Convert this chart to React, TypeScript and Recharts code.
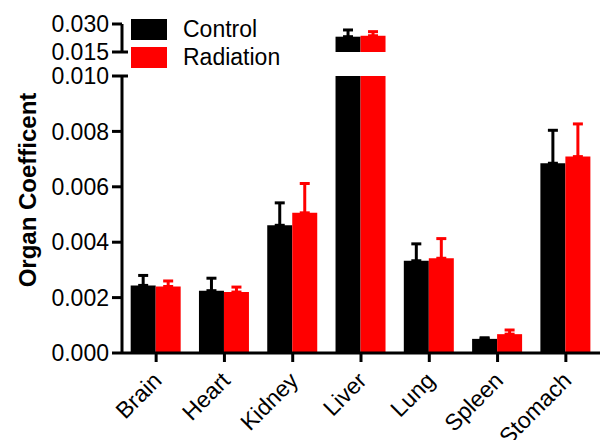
import { BarChart, Bar, XAxis, YAxis, ErrorBar, Legend, Label } from "recharts";

const categories = ["Brain", "Heart", "Kidney", "Liver", "Lung", "Spleen", "Stomach"];
const control = [0.00244, 0.00225, 0.00461, 0.0232, 0.00333, 0.00051, 0.00685];
const controlErr = [0.00036, 0.00045, 0.00081, 0.0036, 0.00061, 0.00004, 0.00119];
const radiation = [0.0024, 0.0022, 0.00506, 0.0237, 0.00342, 0.00068, 0.00709];
const radiationErr = [0.0002, 0.00018, 0.00106, 0.0022, 0.00071, 0.00015, 0.00118];

const lowerTicks = [0, 0.002, 0.004, 0.006, 0.008, 0.01];
const upperTicks = [0.015, 0.03];
const BREAK_LOW = 0.01;
const BREAK_HIGH = 0.015;

const FONT = "'Liberation Sans', Arial, sans-serif";
const TICK_SIZE = 10;
const TICK_MARGIN = 3;

const lowerData = categories.map((name, i) => ({
  name,
  control: control[i],
  controlErr: [0, controlErr[i]],
  radiation: radiation[i],
  radiationErr: [0, radiationErr[i]],
}));

// only the values that reach above the axis break go into the top panel
const upperData = categories.map((name, i) => ({
  name,
  control: control[i] > BREAK_HIGH ? control[i] : null,
  controlErr: control[i] > BREAK_HIGH ? [0, controlErr[i]] : null,
  radiation: radiation[i] > BREAK_HIGH ? radiation[i] : null,
  radiationErr: radiation[i] > BREAK_HIGH ? [0, radiationErr[i]] : null,
}));

function YTick(props: any) {
  const { x, y, payload } = props;
  const axisX = x + TICK_SIZE + TICK_MARGIN;
  const isBreak = payload.value === BREAK_LOW || payload.value === BREAK_HIGH;
  return (
    <g>
      {isBreak && (
        <line x1={axisX} x2={axisX + 6} y1={y} y2={y} stroke="#000" strokeWidth={3} />
      )}
      <text x={x} y={y} dy="0.36em" textAnchor="end" fill="#000" fontSize={23} fontFamily={FONT}>
        {payload.value.toFixed(3)}
      </text>
    </g>
  );
}

function XTick(props: any) {
  const { x, y, payload } = props;
  const tx = x + 7;
  const ty = y + 18;
  return (
    <text
      x={tx}
      y={ty}
      transform={`rotate(-45, ${tx}, ${ty})`}
      textAnchor="end"
      fill="#000"
      fontSize={23}
      fontFamily={FONT}
    >
      {payload.value}
    </text>
  );
}

function LegendBox(props: any) {
  const { payload } = props;
  return (
    <div style={{ fontFamily: FONT, fontSize: 23, color: "#000" }}>
      {payload.map((p: any) => (
        <div key={p.value} style={{ display: "flex", alignItems: "center", height: 28.5 }}>
          <span style={{ display: "inline-block", width: 36, height: 21, background: p.color, marginRight: 16 }} />
          <span>{p.value}</span>
        </div>
      ))}
    </div>
  );
}

export default function App() {
  return (
    <div style={{ position: "absolute", left: 0, top: 0, width: 605, height: 440, background: "#fff" }}>
      <div style={{ position: "absolute", left: 0, top: 0 }}>
        <BarChart
          width={605}
          height={440}
          data={lowerData}
          margin={{ top: 76, right: 5, bottom: 0, left: 0 }}
          barCategoryGap="12.7%"
          barGap={0}
        >
          <XAxis
            dataKey="name"
            height={87}
            interval={0}
            axisLine={{ stroke: "#000", strokeWidth: 3 }}
            tickLine={{ stroke: "#000", strokeWidth: 3 }}
            tickSize={9}
            tick={<XTick />}
          />
          <YAxis
            width={122}
            domain={[0, BREAK_LOW]}
            ticks={lowerTicks}
            allowDataOverflow
            interval={0}
            axisLine={{ stroke: "#000", strokeWidth: 3 }}
            tickLine={{ stroke: "#000", strokeWidth: 3 }}
            tickSize={TICK_SIZE}
            tickMargin={TICK_MARGIN}
            tick={<YTick />}
          >
            <Label
              content={() => (
                <text
                  transform="translate(36,190) rotate(-90)"
                  textAnchor="middle"
                  fontSize={24}
                  fontWeight="bold"
                  fontFamily={FONT}
                  fill="#000"
                >
                  Organ Coefficent
                </text>
              )}
            />
          </YAxis>
          <Legend
            layout="vertical"
            align="center"
            verticalAlign="middle"
            content={<LegendBox />}
            wrapperStyle={{ left: 131, top: 15, width: "auto" }}
          />
          <Bar dataKey="control" name="Control" fill="#000000" isAnimationActive={false}>
            <ErrorBar dataKey="controlErr" width={5} stroke="#000000" strokeWidth={3} isAnimationActive={false} />
          </Bar>
          <Bar dataKey="radiation" name="Radiation" fill="#ff0000" isAnimationActive={false}>
            <ErrorBar dataKey="radiationErr" width={5} stroke="#ff0000" strokeWidth={3} isAnimationActive={false} />
          </Bar>
        </BarChart>
      </div>
      <div style={{ position: "absolute", left: 0, top: 0 }}>
        <BarChart
          width={605}
          height={72}
          data={upperData}
          margin={{ top: 24, right: 5, bottom: 20, left: 0 }}
          barCategoryGap="12.7%"
          barGap={0}
        >
          <XAxis dataKey="name" hide />
          <YAxis
            width={122}
            domain={[BREAK_HIGH, 0.03]}
            ticks={upperTicks}
            allowDataOverflow
            interval={0}
            axisLine={{ stroke: "#000", strokeWidth: 3 }}
            tickLine={{ stroke: "#000", strokeWidth: 3 }}
            tickSize={TICK_SIZE}
            tickMargin={TICK_MARGIN}
            tick={<YTick />}
          />
          <Bar dataKey="control" fill="#000000" isAnimationActive={false}>
            <ErrorBar dataKey="controlErr" width={5} stroke="#000000" strokeWidth={3} isAnimationActive={false} />
          </Bar>
          <Bar dataKey="radiation" fill="#ff0000" isAnimationActive={false}>
            <ErrorBar dataKey="radiationErr" width={5} stroke="#ff0000" strokeWidth={3} isAnimationActive={false} />
          </Bar>
        </BarChart>
      </div>
    </div>
  );
}
